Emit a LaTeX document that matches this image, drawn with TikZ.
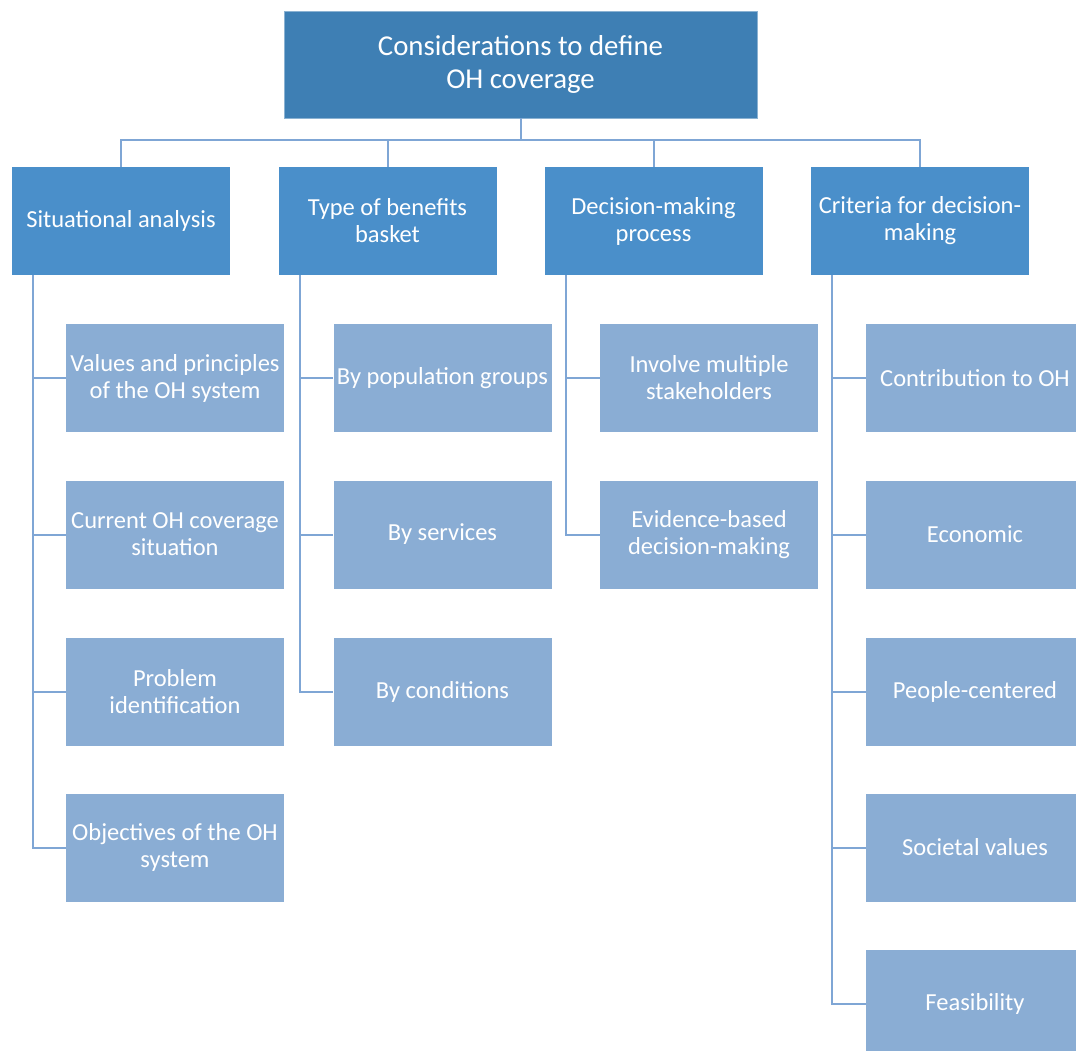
\documentclass[tikz,border=0pt]{standalone}
\usepackage{fontspec}
\setmainfont{Carlito}
\definecolor{rootblue}{HTML}{3E7FB4}
\definecolor{headblue}{HTML}{4A8FCA}
\definecolor{itemblue}{HTML}{8AADD4}
\definecolor{lineblue}{HTML}{7FA6D5}
\tikzset{
  rootbox/.style={fill=rootblue, draw=rootblue!60!white, text=white, minimum width=473pt, minimum height=107pt, align=center, inner sep=0pt, font=\fontsize{28.8}{33}\selectfont},
  headbox/.style={fill=headblue, text=white, minimum width=218pt, minimum height=108pt, align=center, inner sep=0pt, font=\fontsize{24.5}{27}\selectfont},
  itembox/.style={fill=itemblue, text=white, minimum width=218pt, minimum height=108pt, align=center, inner sep=0pt, font=\fontsize{24.5}{27}\selectfont},
  link/.style={draw=lineblue, line width=2pt}
}
\begin{document}
\begin{tikzpicture}[x=1pt,y=-1pt]
\useasboundingbox (0,0) rectangle (1076,1051);
\clip (0,0) rectangle (1076,1051);
% top
\node[rootbox] (root) at (520.5,64.5) {Considerations to define\\OH coverage};
% heads
\node[headbox] (sit) at (121,221) {Situational analysis};
\node[headbox] (ben) at (387.5,221) {Type of benefits\\basket};
\node[headbox] (dec) at (653.5,221) {Decision-making\\process};
\node[headbox] (cri) at (920,221) {Criteria for decision-\\making};
% situational analysis
\node[itembox] (sit1) at (175,378) {Values and principles\\of the OH system};
\node[itembox] (sit2) at (175,534.5) {Current OH coverage\\situation};
\node[itembox] (sit3) at (175,691.5) {Problem\\identification};
\node[itembox] (sit4) at (175,847.5) {Objectives of the OH\\system};
% benefits basket
\node[itembox] (ben1) at (442.5,378) {By population groups};
\node[itembox] (ben2) at (442.5,534.5) {By services};
\node[itembox] (ben3) at (442.5,691.5) {By conditions};
% decision process
\node[itembox] (dec1) at (709,378) {Involve multiple\\stakeholders};
\node[itembox] (dec2) at (709,534.5) {Evidence-based\\decision-making};
% criteria
\node[itembox] (cri1) at (975,378) {Contribution to OH};
\node[itembox] (cri2) at (975,534.5) {Economic};
\node[itembox] (cri3) at (975,691.5) {People-centered};
\node[itembox] (cri4) at (975,847.5) {Societal values};
\node[itembox] (cri5) at (975,1004) {Feasibility};
% connectors
\draw[link] (root.south) -- ++(0,22) -| (sit.north);
\draw[link] (root.south) -- ++(0,22) -| (ben.north);
\draw[link] (root.south) -- ++(0,22) -| (dec.north);
\draw[link] (root.south) -- ++(0,22) -| (cri.north);
\draw[link] ([xshift=-88pt]sit.south) |- (sit1.west);
\draw[link] ([xshift=-88pt]sit.south) |- (sit2.west);
\draw[link] ([xshift=-88pt]sit.south) |- (sit3.west);
\draw[link] ([xshift=-88pt]sit.south) |- (sit4.west);
\draw[link] ([xshift=-88pt]ben.south) |- (ben1.west);
\draw[link] ([xshift=-88pt]ben.south) |- (ben2.west);
\draw[link] ([xshift=-88pt]ben.south) |- (ben3.west);
\draw[link] ([xshift=-88pt]dec.south) |- (dec1.west);
\draw[link] ([xshift=-88pt]dec.south) |- (dec2.west);
\draw[link] ([xshift=-88pt]cri.south) |- (cri1.west);
\draw[link] ([xshift=-88pt]cri.south) |- (cri2.west);
\draw[link] ([xshift=-88pt]cri.south) |- (cri3.west);
\draw[link] ([xshift=-88pt]cri.south) |- (cri4.west);
\draw[link] ([xshift=-88pt]cri.south) |- (cri5.west);
\end{tikzpicture}
\end{document}
